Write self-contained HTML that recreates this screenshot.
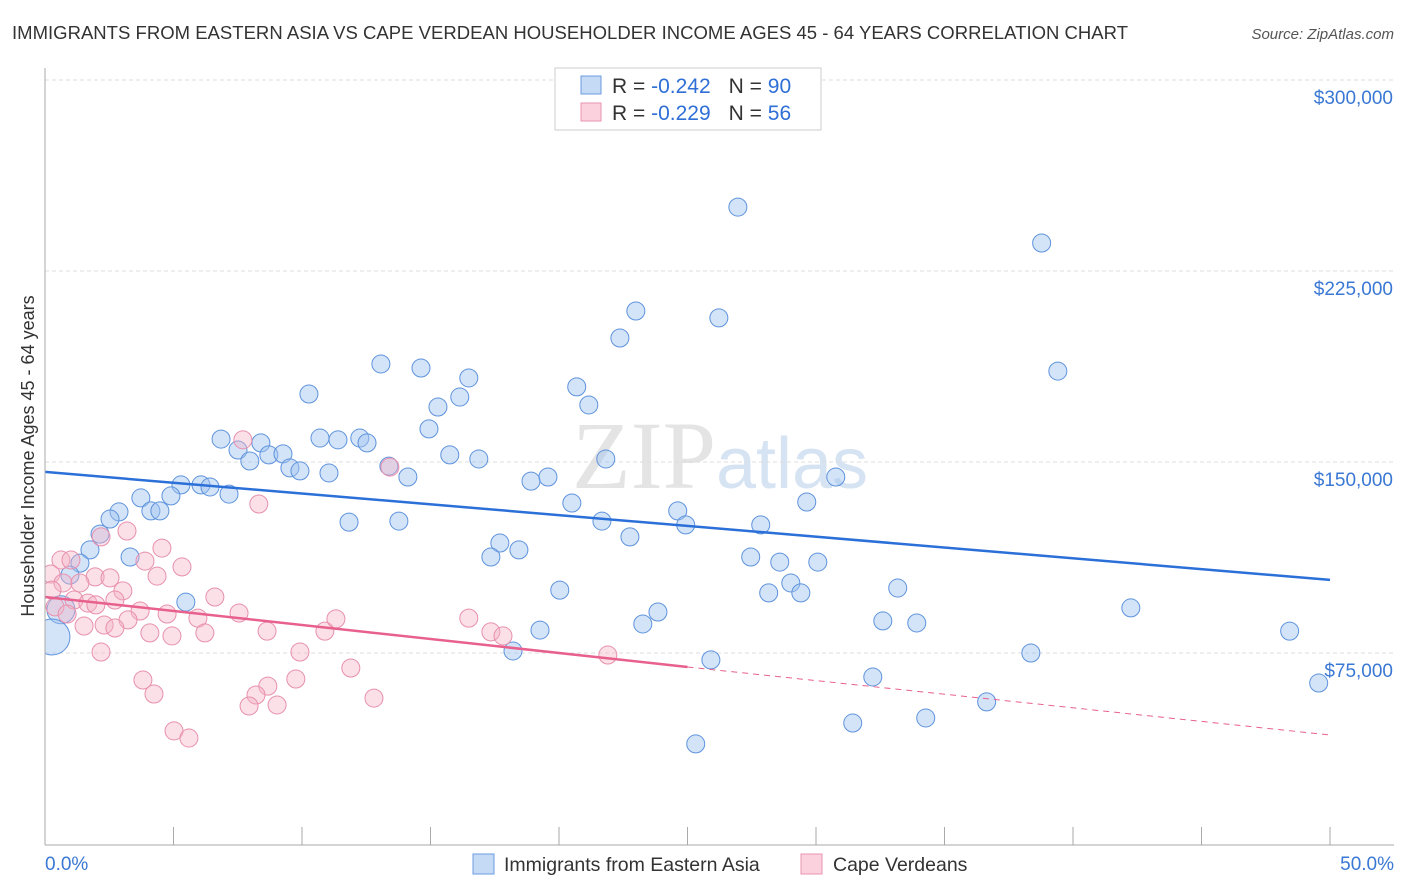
<!DOCTYPE html>
<html><head><meta charset="utf-8">
<style>
body{margin:0;background:#fff;font-family:"Liberation Sans",sans-serif;}
#wrap{position:relative;width:1406px;height:892px;overflow:hidden;}
</style></head>
<body><div id="wrap">
<svg id="svg" width="1406" height="892" xmlns="http://www.w3.org/2000/svg">
<defs><clipPath id="plotclip"><rect x="45" y="60" width="1360" height="786"/></clipPath></defs>
<text x="12" y="39" font-size="18.5" fill="#333" textLength="1116" lengthAdjust="spacing">IMMIGRANTS FROM EASTERN ASIA VS CAPE VERDEAN HOUSEHOLDER INCOME AGES 45 - 64 YEARS CORRELATION CHART</text>
<text x="1394" y="39" font-size="15" fill="#555" font-style="italic" text-anchor="end">Source: ZipAtlas.com</text>
<text x="720" y="488" font-size="96" fill="#e4e4e4" text-anchor="middle" font-family="Liberation Serif,serif">ZIP<tspan fill="#d6e3f3" font-family="Liberation Sans,sans-serif" font-size="72">atlas</tspan></text>
<text transform="translate(34,456) rotate(-90)" font-size="18" fill="#333" text-anchor="middle">Householder Income Ages 45 - 64 years</text>
<g id="grid"></g><g id="marks" clip-path="url(#plotclip)"></g><g id="axes"></g>
<g>
<rect x="555" y="68" width="266" height="62" fill="#fff" stroke="#ccc"/>
<rect x="581" y="76" width="20" height="18" fill="#c5daf5" stroke="#6a9be0"/>
<rect x="581" y="103" width="20" height="18" fill="#fad1dd" stroke="#e995b0"/>
<text x="612" y="93" font-size="21" fill="#333">R = <tspan fill="#2f6fd6">-0.242</tspan><tspan dx="18">N = </tspan><tspan fill="#2f6fd6">90</tspan></text>
<text x="612" y="120" font-size="21" fill="#333">R = <tspan fill="#2f6fd6">-0.229</tspan><tspan dx="18">N = </tspan><tspan fill="#2f6fd6"> 56</tspan></text>
</g>
<g>
<rect x="473" y="854" width="21" height="20" fill="#c5daf5" stroke="#6a9be0"/>
<text x="504" y="871" font-size="19.5" fill="#333">Immigrants from Eastern Asia</text>
<rect x="801" y="854" width="21" height="20" fill="#fad1dd" stroke="#e995b0"/>
<text x="833" y="871" font-size="19.5" fill="#333">Cape Verdeans</text>
</g>
</svg>
<script>
const blueX=[26.96,38.78,22.99,26.22,22.37,13.07,14.63,39.41,16.49,20.69,16.14,10.27,15.29,21.16,14.94,6.85,10.70,11.40,12.25,12.53,8.40,7.51,8.71,9.26,7.97,15.75,16.88,21.82,9.53,9.92,11.05,13.38,14.12,19.57,18.91,30.77,5.29,6.07,6.42,7.16,4.90,3.73,2.88,4.12,4.47,2.53,20.50,29.64,24.62,11.83,13.77,21.67,24.93,27.85,2.14,22.76,17.70,1.75,18.44,3.31,17.35,27.46,28.59,30.07,1.36,0.97,29.02,20.03,28.16,29.41,33.18,42.25,23.85,5.48,23.26,32.60,33.92,19.26,48.43,18.21,38.36,25.91,32.21,49.56,36.64,31.43,34.27,25.32];
const blueY=[250.1,236.0,209.3,206.6,198.7,188.5,186.9,185.7,183.0,179.5,175.5,176.7,171.6,172.4,163.0,159.0,159.4,158.7,159.4,157.5,157.5,154.7,152.8,153.2,150.4,152.8,151.2,151.2,147.7,146.5,145.7,148.4,144.1,144.1,142.5,144.1,141.0,141.0,140.2,137.4,136.7,135.9,130.4,130.8,130.8,127.6,133.9,134.3,130.8,126.4,126.8,126.8,125.3,125.3,121.7,120.6,118.2,115.5,115.5,112.7,112.7,112.7,110.7,110.7,110.3,105.6,102.5,99.7,98.6,98.6,100.5,92.7,91.1,95.0,86.4,87.6,86.8,84.0,83.6,75.8,75.0,72.3,65.6,63.2,55.8,47.5,49.5,39.3];
const blueBigX=[0.62,0.27];
const blueBigY=[92.0,81.3];
const blueBigR=[14,18];
const pinkX=[7.70,8.32,2.18,3.19,4.55,0.62,1.01,3.89,5.33,0.23,1.95,0.70,1.36,2.53,4.36,3.03,6.61,1.13,2.72,1.67,1.98,0.39,3.70,4.75,7.55,5.95,3.23,1.52,2.30,2.72,4.08,4.94,6.22,8.64,10.89,11.32,16.49,17.35,17.82,21.90,2.18,9.92,11.90,3.81,9.76,8.67,4.24,8.21,12.80,7.94,9.03,5.02,5.60,13.42,0.86,0.27];
const pinkY=[158.7,133.5,120.6,122.9,116.2,111.5,111.5,111.1,108.8,106.0,104.9,102.5,102.5,104.5,105.2,99.4,97.0,95.8,95.8,94.6,93.9,93.1,91.5,90.3,90.7,88.7,88.0,85.6,86.0,84.8,82.9,81.7,82.9,83.6,83.6,88.4,88.7,83.3,81.7,74.2,75.4,75.4,69.1,64.4,64.8,62.0,58.9,58.5,57.3,54.2,54.6,44.4,41.6,148.0,90.3,99.7];
const blueTrend=[146.1,103.7];
const pinkTrend=[97.0,69.5,42.8];
const yTicks=[75,150,225,300];
const yTickLabels=["$75,000","$150,000","$225,000","$300,000"];
const xTickLabels=["0.0%","50.0%"];

const NS="http://www.w3.org/2000/svg";
const X=p=>45+p*25.7;
const Y=k=>844-k*191/75;
function mk(tag,attrs,parent){const e=document.createElementNS(NS,tag);for(const a in attrs)e.setAttribute(a,attrs[a]);parent.appendChild(e);return e;}
const grid=document.getElementById('grid'),marks=document.getElementById('marks'),axes=document.getElementById('axes');
yTicks.forEach((t,i)=>{
  const l=mk('line',{x1:45,x2:1394,y1:Y(t),y2:Y(t),stroke:'#ddd','stroke-dasharray':'4,3'},grid);
  
  
  const tx=mk('text',{x:1393,y:Y(t)+24,'font-size':19,fill:'#3a78d4','text-anchor':'end'},axes);
  tx.textContent=yTickLabels[i];
  
  
});
const ax=mk('line',{x1:45,x2:45,y1:68,y2:845,stroke:'#aaa'},axes);


const bx=mk('line',{x1:45,x2:1394,y1:845,y2:845,stroke:'#aaa'},axes);


for(let i=1;i<=10;i++){
  const t=mk('line',{x1:X(i*5),x2:X(i*5),y1:827,y2:845,stroke:'#aaa'},axes);
  
  
}
[[0,'start',45],[50,'end',1394]].forEach((d,i)=>{
  const t=mk('text',{x:d[2],y:870,'font-size':19,fill:'#3a78d4','text-anchor':d[1]},axes);
  t.textContent=xTickLabels[i];
  
  
});
blueX.forEach((x,i)=>{
  const c=mk('circle',{cx:X(x),cy:Y(blueY[i]),r:9,fill:'rgba(160,196,240,0.45)',stroke:'#5e93dd','stroke-width':1},marks);
  
  
});
blueBigX.forEach((x,i)=>{
  const c=mk('circle',{cx:X(x),cy:Y(blueBigY[i]),r:blueBigR[i],fill:'rgba(160,196,240,0.45)',stroke:'#5e93dd','stroke-width':1},marks);
  
  
});
pinkX.forEach((x,i)=>{
  const c=mk('circle',{cx:X(x),cy:Y(pinkY[i]),r:9,fill:'rgba(246,178,198,0.4)',stroke:'#e890ad','stroke-width':1},marks);
  
  
});
const bt=mk('line',{x1:X(0),y1:Y(blueTrend[0]),x2:X(50),y2:Y(blueTrend[1]),stroke:'#2b6fd8','stroke-width':2.5},marks);


const pt=mk('line',{x1:X(0),y1:Y(pinkTrend[0]),x2:X(25),y2:Y(pinkTrend[1]),stroke:'#e8608e','stroke-width':2.5},marks);


const pd=mk('line',{x1:X(25),y1:Y(pinkTrend[1]),x2:X(50),y2:Y(pinkTrend[2]),stroke:'#e8608e','stroke-width':1,'stroke-dasharray':'6,5'},marks);


</script>
</div></body></html>
